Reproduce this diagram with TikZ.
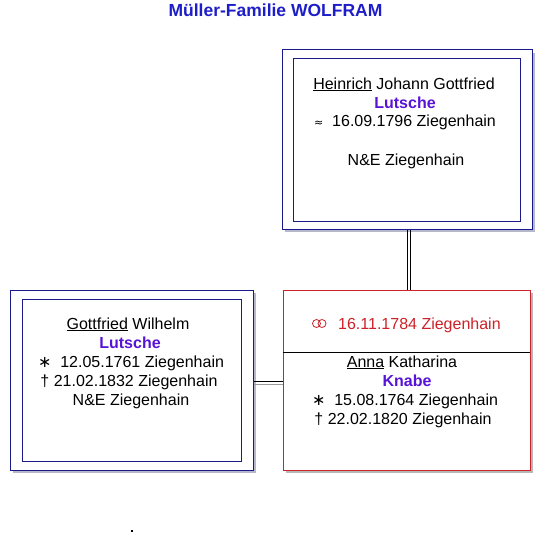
\documentclass[tikz,border=0pt]{standalone}
\usepackage{fontspec}
\setmainfont{Liberation Sans}
\newfontfamily\symfont{DejaVu Sans}
\usetikzlibrary{shadows}
\definecolor{titleblue}{RGB}{30,30,200}
\definecolor{namecol}{RGB}{88,20,214}
\definecolor{boxblue}{RGB}{26,26,140}
\definecolor{boxred}{RGB}{204,34,41}
\definecolor{shadowblue}{RGB}{184,184,204}
\definecolor{shadowgray}{RGB}{184,184,184}
\tikzset{
  person/.style={draw=boxblue, line width=1pt, fill=white, inner sep=0pt,
    drop shadow={shadow xshift=3pt, shadow yshift=-3pt, fill=shadowblue, opacity=1}},
  couple/.style={draw=boxred, line width=1pt, fill=white, inner sep=0pt,
    drop shadow={shadow xshift=3pt, shadow yshift=-3pt, fill=shadowgray, opacity=1}},
  frame/.style={draw=boxblue, line width=1pt, inner sep=0pt},
  txt/.style={anchor=base, inner sep=0pt, font=\fontsize{16}{19}\selectfont},
  lnk/.style={draw=black, line width=0.9pt}
}
\begin{document}
\begin{tikzpicture}[x=1pt,y=-1pt]
  \useasboundingbox (0,0) rectangle (552,551);
  \node[anchor=base, inner sep=0pt, text=titleblue, font=\fontsize{17.5}{20}\selectfont\bfseries] (title) at (275.5,16.7) {Müller-Familie WOLFRAM};

  % boxes
  \node[person, minimum width=250pt, minimum height=179pt] (heinrich) at (407,139.5) {};
  \node[frame, minimum width=227pt, minimum height=162pt] (heinrichin) at (406.5,140) {};
  \node[person, minimum width=243pt, minimum height=180pt] (gottfried) at (131.5,380) {};
  \node[frame, minimum width=219pt, minimum height=162pt] (gottfriedin) at (131.5,380) {};
  \node[couple, minimum width=247pt, minimum height=180pt] (anna) at (406.5,380) {};
  \coordinate (sepl) at (283,352);
  \coordinate (sepr) at (530,352);
  \draw[line width=0.8pt] (sepl) -- (sepr);

  % links
  \coordinate (pa) at (407,229.5);
  \coordinate (pb) at (410,229.5);
  \coordinate (ma) at (253.5,381);
  \coordinate (mb) at (253.5,384);
  \draw[lnk] (pa) -- (pa |- anna.north);
  \draw[lnk] (pb) -- (pb |- anna.north);
  \draw[lnk] (ma) -- (ma -| anna.west);
  \draw[lnk, draw=black!40] (mb) -- (mb -| anna.west);

  % Heinrich
  \node[txt] (h1) at (404,89)  {\underline{Heinrich} Johann Gottfried};
  \node[txt, text=namecol, font=\fontsize{16}{19}\selectfont\bfseries] (h2) at (405,108) {Lutsche};
  \node[txt] (h3) at (405,127) {{\symfont\fontsize{11}{13}\selectfont ≈}\ \ 16.09.1796 Ziegenhain};
  \node[txt] (h4) at (406,165) {N\&E Ziegenhain};

  % Gottfried
  \node[txt] (g1) at (128,329) {\underline{Gottfried} Wilhelm};
  \node[txt, text=namecol, font=\fontsize{16}{19}\selectfont\bfseries] (g2) at (130,348) {Lutsche};
  \node[txt] (g3) at (131,367) {{\symfont ∗}\ \ 12.05.1761 Ziegenhain};
  \node[txt] (g4) at (129,386) {† 21.02.1832 Ziegenhain};
  \node[txt] (g5) at (131,405) {N\&E Ziegenhain};

  % Anna
  \draw[boxred, line width=0.8pt] (316.5,323.5) circle (4) (322,323.5) circle (4);
  \node[txt, anchor=base west, text=boxred] (a0) at (338,329) {16.11.1784 Ziegenhain};
  \node[txt] (a1) at (402,367) {\underline{Anna} Katharina};
  \node[txt, text=namecol, font=\fontsize{16}{19}\selectfont\bfseries] (a2) at (407,386) {Knabe};
  \node[txt] (a3) at (405,405) {{\symfont ∗}\ \ 15.08.1764 Ziegenhain};
  \node[txt] (a4) at (403,424) {† 22.02.1820 Ziegenhain};

  \fill (131,530) rectangle (133,532);
\end{tikzpicture}
\end{document}
